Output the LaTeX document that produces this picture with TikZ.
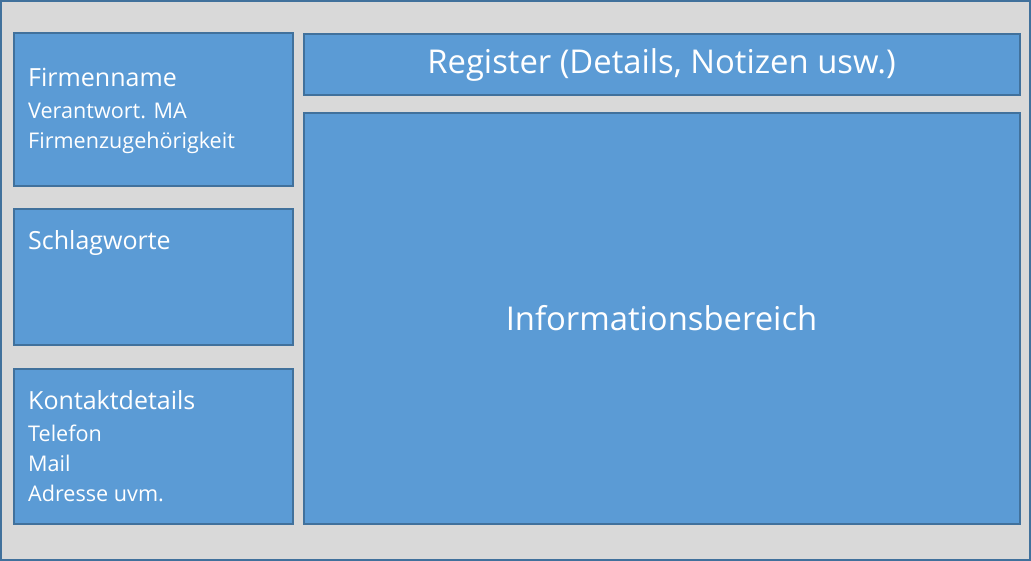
\documentclass[tikz,border=0pt]{standalone}
\usepackage{fontspec}
\setmainfont{Open Sans}
\definecolor{boxfill}{HTML}{5B9BD5}
\definecolor{boxline}{HTML}{41719C}
\definecolor{bggrey}{HTML}{D9D9D9}
\begin{document}
\begin{tikzpicture}[x=1pt, y=-1pt,
	panel/.style={rectangle, draw=boxline, fill=boxfill, line width=2pt, anchor=north west, inner sep=0pt, text=white},
	head/.style={anchor=base west, inner sep=0pt, text=white, font=\fontsize{25}{30}\selectfont},
	item/.style={anchor=base west, inner sep=0pt, text=white, font=\fontsize{21.6}{26}\selectfont},
	title/.style={font=\fontsize{32.8}{38}\selectfont}]
	\useasboundingbox (0,0) rectangle (1031,561);
	\draw[fill=bggrey, draw=boxline, line width=2pt] (1,1) rectangle (1030,560);
	% left column
	\node[panel, minimum width=279pt, minimum height=153pt] (firma) at (12.5,32.5) {};
	\node[panel, minimum width=279pt, minimum height=136pt] (schlag) at (12.5,208.5) {};
	\node[panel, minimum width=279pt, minimum height=155pt] (kontakt) at (12.5,367.5) {};
	% right column
	\node[panel, title, minimum width=716pt, minimum height=61pt] (register) at (302.5,33.5) {Register (Details, Notizen usw.)};
	\node[panel, title, minimum width=716pt, minimum height=410pt] (info) at (302.5,112.5) {Informationsbereich};
	% texts
	\node[head] (firmaname) at (28,87) {Firmenname};
	\node[item] (firmama) at (28,119) {Verantwort. MA};
	\node[item] (firmazug) at (28,149) {Firmenzugehörigkeit};
	\node[head] (schlagtxt) at (28,250) {Schlagworte};
	\node[head] (kontakttxt) at (28,409) {Kontaktdetails};
	\node[item] (telefon) at (28,441) {Telefon};
	\node[item] (mail) at (28,471) {Mail};
	\node[item] (adresse) at (28,501) {Adresse uvm.};
\end{tikzpicture}
\end{document}
